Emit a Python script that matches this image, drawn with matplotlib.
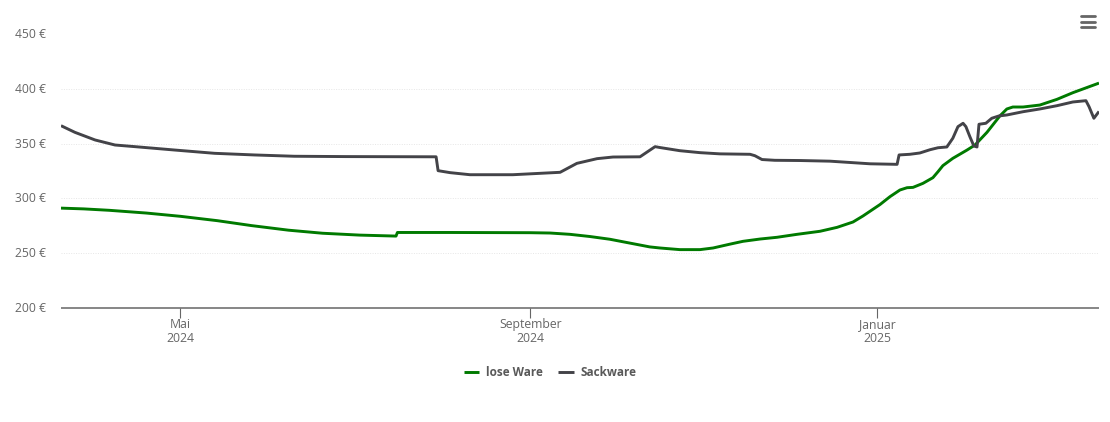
import datetime as dt
import matplotlib
matplotlib.use("Agg")
import matplotlib.pyplot as plt
import matplotlib.dates as mdates
from matplotlib.lines import Line2D
from matplotlib.transforms import ScaledTranslation

start = dt.datetime(2024, 3, 20)

# days since start / price
lose_tage = [0, 8, 17, 30, 42, 55, 67, 80, 92, 105, 117.8, 118.3, 137, 165, 172, 179, 186, 193, 200, 207,
             210.6, 217.6, 224.7, 229.3, 235.2, 239.8, 245.8, 251.8, 258.8, 266.9, 272.9, 278.5, 282, 288,
             291.5, 295, 297.5, 299.6, 303.1, 306.6, 308.4, 310.1, 313.6, 318.6, 321.4, 325.6, 330.2, 332.6,
             334.7, 338.3, 344.2, 350.2, 355.8, 365]
lose_preis = [291, 290.3, 289, 286.5, 283.5, 279.5, 275, 270.8, 268, 266.3, 265.4, 268.7, 268.7, 268.5, 268.2, 267, 265, 262.5, 259, 255.5,
              254.5, 253, 253, 254.5, 258, 260.6, 262.7, 264.3, 267, 269.8, 273.4, 278.3, 283.8, 294.3,
              301.5, 307.6, 309.7, 310, 313.7, 318.9, 324.4, 329.9, 336.6, 344.2, 348.8, 360.4, 375.6, 381.8,
              383.6, 383.6, 385.4, 390.6, 396.7, 405.5]

sack_tage = [0, 4.9, 12, 19, 26, 40, 54, 68, 82, 100, 131.9, 132.6, 136.8, 143.8, 158.9, 175.5, 181.4, 188.5,
             194.1, 203.6, 208.9, 210.6, 217.6, 224.7, 231.7, 242.3, 244, 246.5, 251, 259.8, 270.4, 284.5,
             294, 294.7, 298.5, 302, 305.6, 308.4, 311.5, 313.6, 315.4, 317.2, 318.2, 319.6, 321, 322.1, 322.8,
             325.2, 327.3, 329.8, 332.6, 338.3, 344.2, 350.2, 355.8, 360.4, 361.5, 363.2, 365]
sack_preis = [366.5, 360.4, 353.4, 348.8, 347.3, 344.2, 341.2, 339.7, 338.5, 338.2, 338, 325.3, 323.5, 321.6, 321.6, 323.8, 332, 336.3,
              337.8, 338, 347.3, 346.5, 343.6, 341.8, 340.7, 340.3, 339, 335.5, 334.8, 334.6, 334, 331.6,
              331.1, 339.7, 340.3, 341.5, 344.5, 346.3, 347, 355, 365.6, 368.7, 365.6, 356.4, 347.9, 347, 367.8,
              368.7, 373.3, 375.4, 376.3, 379.3, 381.8, 384.8, 388.2, 389.4, 383.9, 373.3, 379.5]

y_ticks = [200, 250, 300, 350, 400, 450]
x_ticks = [dt.datetime(2024, 5, 1), dt.datetime(2024, 9, 1), dt.datetime(2025, 1, 1)]
x_labels = ["Mai\n2024", "September\n2024", "Januar\n2025"]

plt.rcParams['font.family'] = ['Open Sans', 'DejaVu Sans']

W, H = 1110, 422
fig = plt.figure(figsize=(W / 100, H / 100), dpi=100)
ax = fig.add_axes([61 / W, 1 - 307.5 / H, 1038 / W, 273 / H])


def zu_datum(tage):
    return [start + dt.timedelta(days=t) for t in tage]


ax.plot(zu_datum(lose_tage), lose_preis, color="#007a00", lw=2.1, label="lose Ware",
        solid_joinstyle="round", solid_capstyle="butt")
ax.plot(zu_datum(sack_tage), sack_preis, color="#434348", lw=2.1, label="Sackware",
        solid_joinstyle="round", solid_capstyle="butt")

ax.set_xlim(start, start + dt.timedelta(days=365))
ax.set_ylim(200, 450)

for s in ["top", "left", "right"]:
    ax.spines[s].set_visible(False)
ax.spines["bottom"].set_color("#666666")
ax.spines["bottom"].set_linewidth(1.1)
ax.spines["bottom"].set_capstyle("butt")

ax.set_yticks(y_ticks)
ax.set_yticklabels([f"{v} €" for v in y_ticks])
ax.set_xticks(mdates.date2num(x_ticks))
ax.set_xticklabels(x_labels, linespacing=1.15)
ax.tick_params(axis="y", length=0, pad=10.5, labelsize=8.7, labelcolor="#666666")
ax.tick_params(axis="x", length=7, width=0.8, color="#666666", pad=0.5, labelsize=8.8, labelcolor="#666666")
ax.yaxis.grid(True, color="#e6e6e6", lw=0.7, ls=(0, (1, 1.5)))
ax.set_axisbelow(True)

# y labels sit a pixel above the grid line
hoch = ScaledTranslation(0, 1 / 100, fig.dpi_scale_trans)
for lbl in ax.get_yticklabels():
    lbl.set_transform(lbl.get_transform() + hoch)

leg = fig.legend(loc="center", bbox_to_anchor=(550 / W, 1 - 372.5 / H), ncol=2, frameon=False,
                 handlelength=1.3, handletextpad=0.55, columnspacing=1.35,
                 prop={"size": 8.5, "weight": "bold"}, labelcolor="#595959")

# menu icon top right
for y in [16.3, 21.5, 26.5]:
    fig.add_artist(Line2D([1081 / W, 1095 / W], [1 - y / H, 1 - y / H], color="#666666", lw=2.0, solid_capstyle="round"))

fig.savefig("out.png", dpi=100)
